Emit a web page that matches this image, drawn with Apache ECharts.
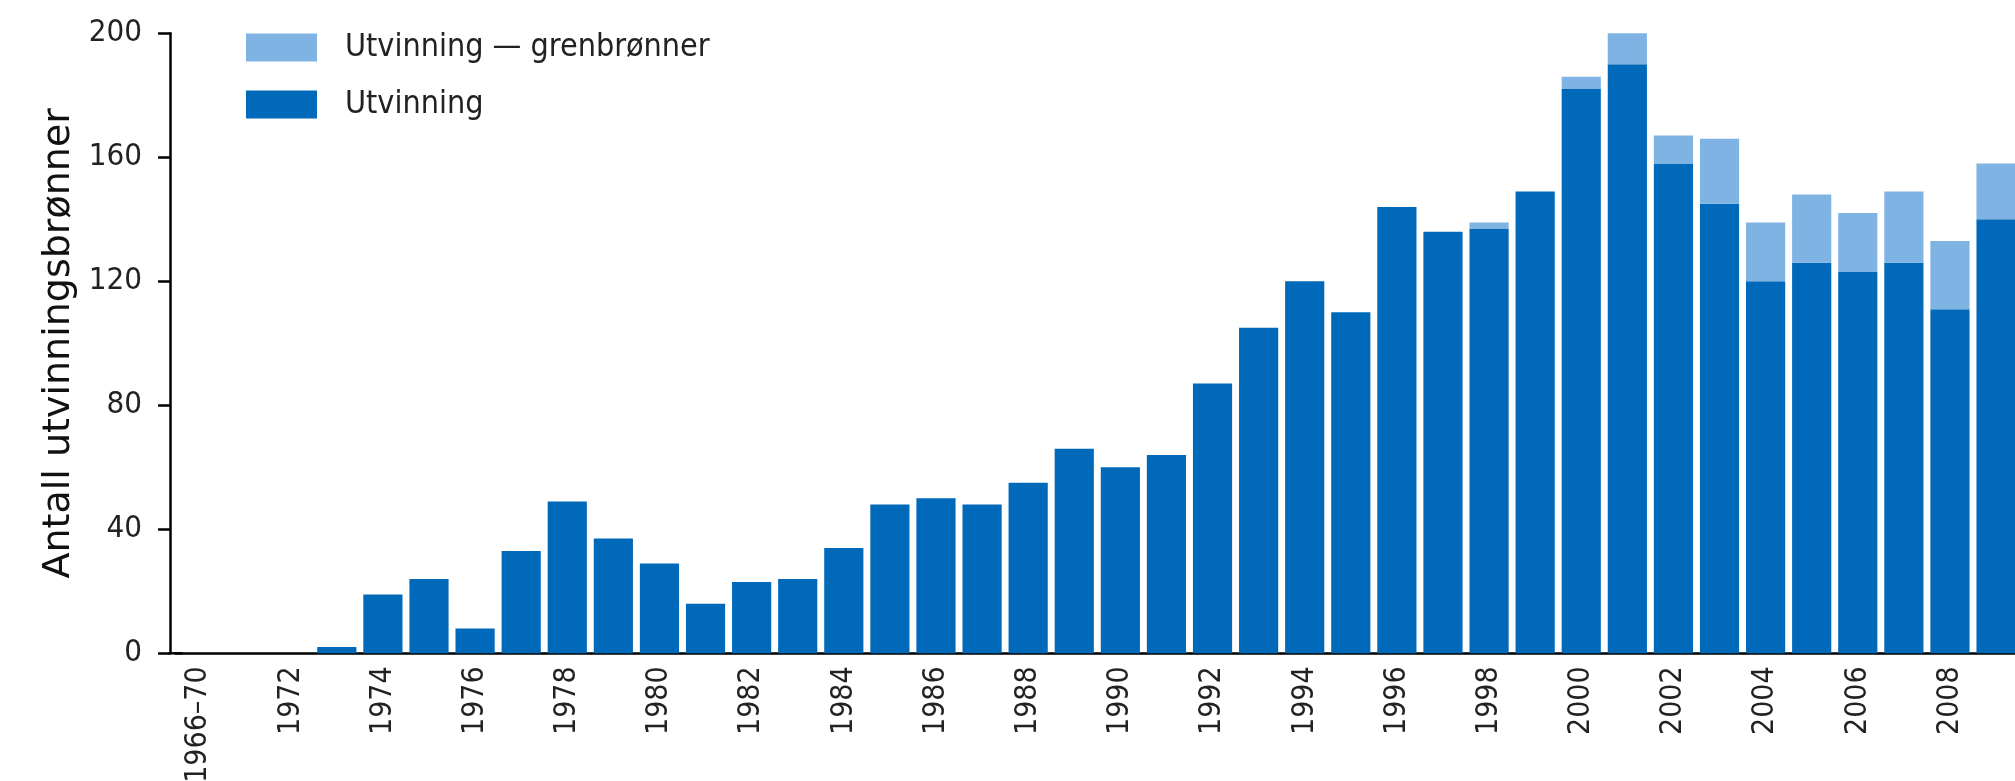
<!DOCTYPE html>
<html>
<head>
<meta charset="utf-8">
<title>Utvinningsbrønner</title>
<script src="https://cdn.jsdelivr.net/npm/echarts@6/dist/echarts.min.js"></script>
<style>
  html, body { margin: 0; padding: 0; background: #fff; }
  #chart { width: 2015px; height: 781px; }
</style>
</head>
<body>
<div id="chart"></div>
<script>
// kategorier (x-akse)
const years = ['1966–70', '1971', '1972', '1973', '1974', '1975', '1976', '1977', '1978', '1979',
  '1980', '1981', '1982', '1983', '1984', '1985', '1986', '1987', '1988', '1989',
  '1990', '1991', '1992', '1993', '1994', '1995', '1996', '1997', '1998', '1999',
  '2000', '2001', '2002', '2003', '2004', '2005', '2006', '2007', '2008', '2009']

// Utvinning (mørk blå)
const utvinning = [0, 0, 0, 2, 19, 24, 8, 33, 49, 37,
  29, 16, 23, 24, 34, 48, 50, 48, 55, 66,
  60, 64, 87, 105, 120, 110, 144, 136, 137, 149,
  182, 190, 158, 145, 120, 126, 123, 126, 111, 140]

// Utvinning — grenbrønner (lys blå), stables oppå
const grenbronner = [0, 0, 0, 0, 0, 0, 0, 0, 0, 0,
  0, 0, 0, 0, 0, 0, 0, 0, 0, 0,
  0, 0, 0, 0, 0, 0, 0, 0, 2, 0,
  4, 10, 9, 21, 19, 22, 19, 23, 22, 18]

const yTicks = { min: 0, max: 200, interval: 40 }

const seriesNames = ['Utvinning — grenbrønner', 'Utvinning']
const yTitle = 'Antall utvinningsbrønner'

const narrow = '"DejaVu Sans Condensed", "Liberation Sans Narrow", sans-serif'

const myChart = echarts.init(document.getElementById('chart'))
const option = {
  animation: false,
  grid: {
    left: 175.5,
    top: 33.3,
    width: 1843.6,
    height: 620,
    outerBoundsMode: 'none'
  },
  legend: {
    orient: 'vertical',
    left: 246,
    top: 31.5,
    padding: 0,
    itemWidth: 71,
    itemHeight: 28,
    itemGap: 25,
    icon: 'rect',
    data: [seriesNames[0], seriesNames[1]],
    textStyle: {
      fontFamily: narrow,
      fontSize: 32,
      color: '#222',
      padding: [0, 0, 0, 23]
    }
  },
  xAxis: {
    type: 'category',
    data: years,
    axisLine: {
      symbol: ['rect', 'none'],
      symbolSize: [2.5, 14],
      lineStyle: { color: '#000', width: 2.5 }
    },
    axisTick: { show: false },
    axisLabel: {
      interval: 1,
      rotate: 90,
      margin: 13,
      fontFamily: narrow,
      fontSize: 30,
      color: '#222'
    }
  },
  yAxis: {
    type: 'value',
    offset: 5.5,
    min: yTicks.min,
    max: yTicks.max,
    interval: yTicks.interval,
    name: yTitle,
    nameLocation: 'middle',
    nameGap: 86,
    nameTextStyle: {
      fontFamily: '"DejaVu Sans", sans-serif',
      fontSize: 38,
      color: '#111'
    },
    axisLine: { show: true, lineStyle: { color: '#000', width: 2.5 } },
    axisTick: { show: true, length: 12, lineStyle: { color: '#000', width: 2.5 } },
    splitLine: { show: false },
    axisLabel: {
      margin: 28,
      fontFamily: narrow,
      fontSize: 31,
      color: '#222'
    }
  },
  series: [
    {
      name: seriesNames[1],
      type: 'bar',
      stack: 'total',
      barCategoryGap: '15%',
      itemStyle: { color: '#0069b9' },
      data: utvinning
    },
    {
      name: seriesNames[0],
      type: 'bar',
      stack: 'total',
      barCategoryGap: '15%',
      itemStyle: { color: '#7fb3e4' },
      data: grenbronner
    }
  ]
}
myChart.setOption(option)
</script>
</body>
</html>
